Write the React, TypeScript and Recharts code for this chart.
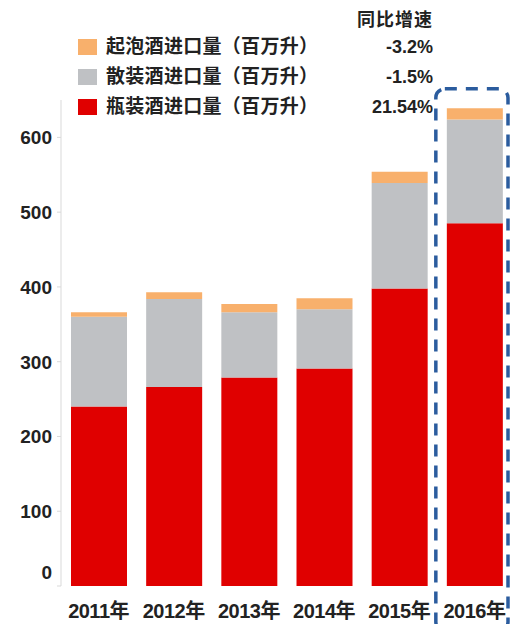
import { BarChart, Bar, XAxis, YAxis, ReferenceArea, Legend } from "recharts";

const years = ["2011年", "2012年", "2013年", "2014年", "2015年", "2016年"];
const bottledWine = [240, 266, 279, 291, 398, 485];
const bulkWine = [120, 118, 87, 79, 141, 139];
const sparklingWine = [6, 9, 11, 15, 15, 15];

// legend rows, top to bottom as in the picture
const legendNames = [
  "起泡酒进口量（百万升）",
  "散装酒进口量（百万升）",
  "瓶装酒进口量（百万升）",
];
const legendColors = ["#F8B06C", "#BFC1C4", "#E00000"];
const growthRates = ["-3.2%", "-1.5%", "21.54%"];
const growthTitle = "同比增速";

const yTicks = [0, 100, 200, 300, 400, 500, 600];
const highlightYear = "2016年";

const FONT = '"Liberation Sans", Arial, "Noto Sans CJK SC", sans-serif';

const chartData = years.map((year, i) => ({
  year,
  bottled: bottledWine[i],
  bulk: bulkWine[i],
  sparkling: sparklingWine[i],
}));

function YTick(props: any) {
  const { x, y, payload } = props;
  // the zero label sits a little above the baseline in the original
  const shift = payload.value === 0 ? -14 : 0;
  return (
    <text
      x={x}
      y={y + shift}
      dy="0.36em"
      textAnchor="end"
      fontSize={19}
      fontWeight="bold"
      fill="#222"
      fontFamily={FONT}
    >
      {payload.value}
    </text>
  );
}

function LegendBlock() {
  return (
    <div style={{ position: "relative", width: 512, height: 125, fontFamily: FONT }}>
      <div
        style={{
          position: "absolute",
          right: 512 - 433,
          top: 9,
          fontSize: 18,
          fontWeight: "bold",
          color: "#222",
          lineHeight: "22px",
          letterSpacing: 1,
        }}
      >
        {growthTitle}
      </div>
      {legendNames.map((name, i) => {
        const cy = 47 + i * 30;
        return (
          <div key={name}>
            <div
              style={{
                position: "absolute",
                left: 78,
                top: cy - 8,
                width: 19,
                height: 16,
                background: legendColors[i],
              }}
            />
            <div
              style={{
                position: "absolute",
                left: 106,
                top: cy - 12,
                fontSize: 19,
                fontWeight: "bold",
                color: "#222",
                lineHeight: "24px",
                whiteSpace: "nowrap",
                letterSpacing: 0.3,
              }}
            >
              {name}
            </div>
            <div
              style={{
                position: "absolute",
                right: 512 - 433,
                top: cy - 11,
                fontSize: 18,
                fontWeight: "bold",
                color: "#222",
                lineHeight: "22px",
              }}
            >
              {growthRates[i]}
            </div>
          </div>
        );
      })}
    </div>
  );
}

function DashedBox(props: any) {
  const { x, y, width, height } = props;
  return (
    <rect
      x={x - 1}
      y={y}
      width={width - 3}
      height={height}
      rx={9}
      ry={9}
      fill="none"
      stroke="#2B5C9E"
      strokeWidth={3.5}
      strokeDasharray="12 9"
    />
  );
}

export default function App() {
  return (
    <div style={{ width: 512, height: 624, background: "#fff" }}>
      <style>{`body{margin:0}`}</style>
      <BarChart
        width={512}
        height={624}
        data={chartData}
        margin={{ top: 100, right: 0, bottom: 0, left: 0 }}
        barSize={56}
      >
        <XAxis
          dataKey="year"
          axisLine={false}
          tickLine={false}
          tickSize={0}
          tickMargin={18}
          height={38}
          interval={0}
          tick={{ fontSize: 20, fontWeight: "bold", fill: "#222", fontFamily: FONT, letterSpacing: -0.5 }}
        />
        <YAxis
          width={61}
          domain={[0, 650]}
          ticks={yTicks}
          axisLine={{ stroke: "#D9D9D9" }}
          tickLine={{ stroke: "#D9D9D9" }}
          tickSize={4}
          tickMargin={5}
          tick={<YTick />}
        />
        <Legend
          layout="vertical"
          align="center"
          verticalAlign="middle"
          wrapperStyle={{ left: 0, top: 0, width: 512 }}
          content={() => <LegendBlock />}
        />
        <Bar dataKey="bottled" stackId="a" fill="#E00000" isAnimationActive={false} />
        <Bar dataKey="bulk" stackId="a" fill="#BFC1C4" isAnimationActive={false} />
        <Bar dataKey="sparkling" stackId="a" fill="#F8B06C" isAnimationActive={false} />
        <ReferenceArea
          x1={highlightYear}
          x2={highlightYear}
          y1={-60}
          y2={665}
          ifOverflow="visible"
          shape={<DashedBox />}
        />
      </BarChart>
    </div>
  );
}
